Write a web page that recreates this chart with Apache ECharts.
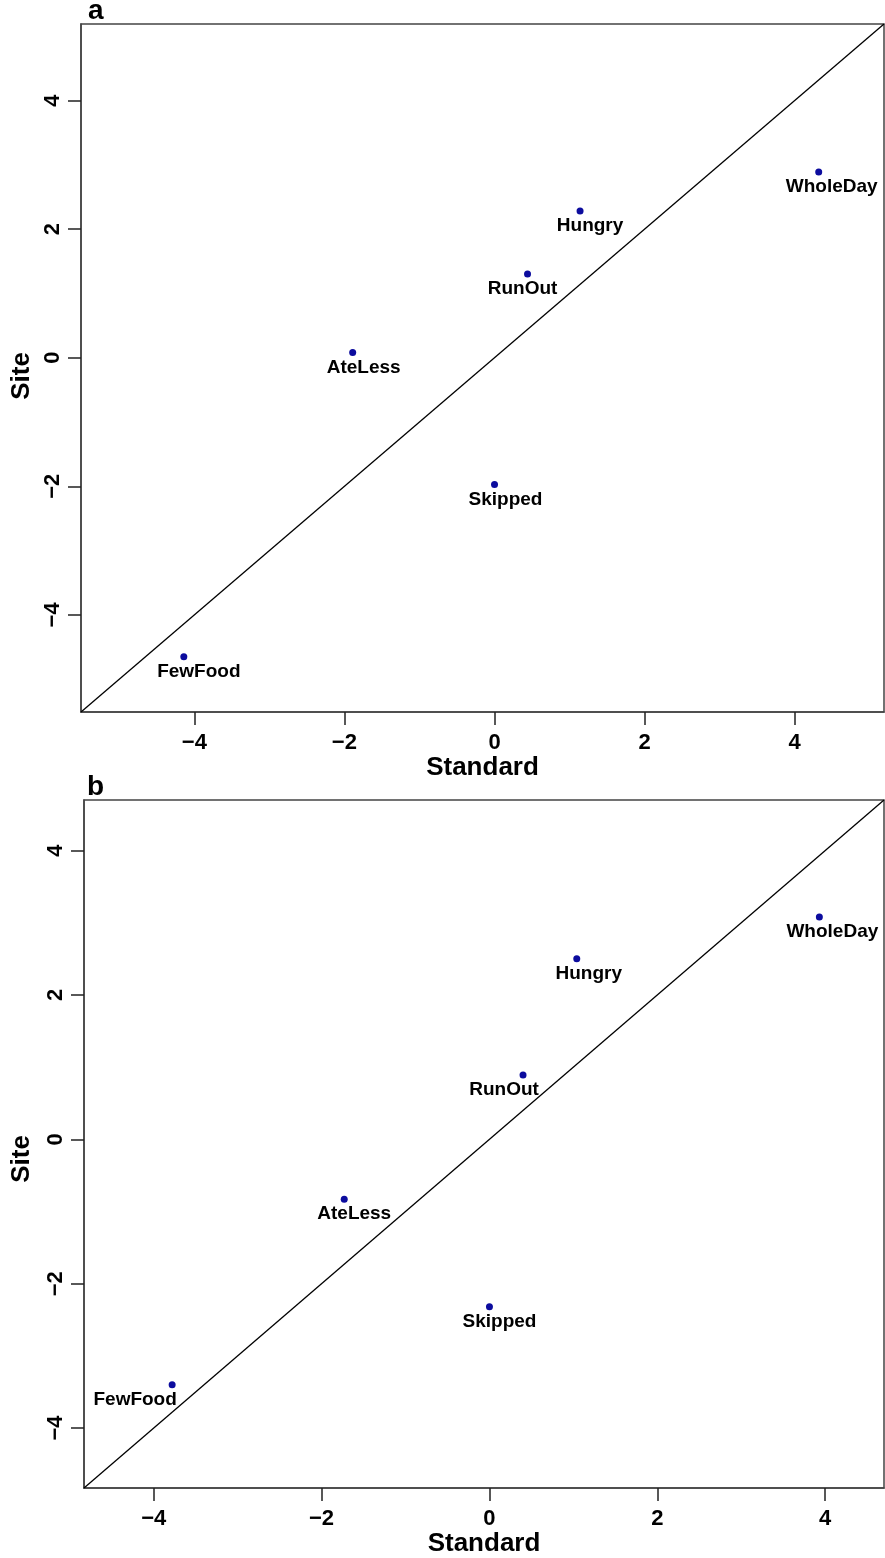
<!DOCTYPE html>
<html>
<head>
<meta charset="utf-8">
<script src="https://cdn.jsdelivr.net/npm/echarts@6/dist/echarts.min.js"></script>
<style>html,body{margin:0;padding:0;background:#fff}#c{width:885px;height:1558px}</style>
</head>
<body>
<div id="c"></div>
<script>
// ---- data ----
const categories = ['AteLess', 'FewFood', 'Hungry', 'RunOut', 'Skipped', 'WholeDay'];
const standardA = [-1.89, -4.14, 1.14, 0.44, 0.00, 4.32];
const siteA     = [ 0.08, -4.65, 2.28, 1.30, -1.97, 2.89];
const standardB = [-1.73, -3.78, 1.04, 0.40, 0.00, 3.93];
const siteB     = [-0.83, -3.40, 2.50, 0.89, -2.32, 3.08];
const tickValues = [-4, -2, 0, 2, 4];
const limitsA = [-5.51, 5.19];
const limitsB = [-4.83, 4.70];
const panelLetters = ['a', 'b'];
const xTitle = 'Standard';
const yTitle = 'Site';

// ---- style ----
const labelShiftA = [11, 15, 10, -5, 11, 13];
const labelShiftB = [10, -37, 12, -19, 10, 13];
const FONT = "'Liberation Sans', Arial, sans-serif";
const fmt = v => v < 0 ? '\u2212' + Math.abs(v) : String(v);

function xAxis(grid, lim) {
  return {
    type: 'value', gridIndex: grid, min: lim[0], max: lim[1],
    name: xTitle, nameLocation: 'middle', nameGap: 42,
    nameTextStyle: { fontFamily: FONT, fontWeight: 'bold', fontSize: 26, color: '#000' },
    axisLine: { show: true, onZero: false, lineStyle: { color: '#444', width: 1.5 } },
    axisTick: { show: true, customValues: tickValues, length: 13, lineStyle: { color: '#222', width: 1.5 } },
    axisLabel: { customValues: tickValues, formatter: fmt, margin: 20, fontFamily: FONT, fontWeight: 'bold', fontSize: 22, color: '#000' },
    splitLine: { show: false }
  };
}
function yAxis(grid, lim) {
  return {
    type: 'value', gridIndex: grid, min: lim[0], max: lim[1],
    axisLine: { show: true, onZero: false, lineStyle: { color: '#444', width: 1.5 } },
    axisTick: { show: true, customValues: tickValues, length: 13, lineStyle: { color: '#222', width: 1.5 } },
    axisLabel: { customValues: tickValues, formatter: fmt, rotate: 90, margin: 17, fontFamily: FONT, fontWeight: 'bold', fontSize: 22, color: '#000' },
    splitLine: { show: false }
  };
}
function points(idx, xs, ys, shifts) {
  return {
    type: 'scatter', xAxisIndex: idx, yAxisIndex: idx,
    symbolSize: 7, itemStyle: { color: '#0c0c9e', opacity: 1 },
    data: categories.map((c, i) => ({
      name: c, value: [xs[i], ys[i]],
      label: { offset: [shifts[i], 0] }
    })),
    label: {
      show: true, position: 'bottom', distance: 2,
      formatter: p => p.name,
      fontFamily: FONT, fontWeight: 'bold', fontSize: 19, color: '#000', opacity: 1
    },
    z: 3
  };
}
function diag(idx, lim) {
  return {
    type: 'line', xAxisIndex: idx, yAxisIndex: idx, symbol: 'none', silent: true,
    data: [[lim[0], lim[0]], [lim[1], lim[1]]],
    lineStyle: { color: '#000', width: 1.3 }, z: 2
  };
}

const chart = echarts.init(document.getElementById('c'), null, { renderer: 'canvas' });
chart.setOption({
  animation: false,
  backgroundColor: '#fff',
  grid: [
    { left: 81, top: 24, width: 803, height: 688, show: true, borderColor: '#444', borderWidth: 1.5 },
    { left: 84, top: 800, width: 800, height: 688, show: true, borderColor: '#444', borderWidth: 1.5 }
  ],
  xAxis: [xAxis(0, limitsA), xAxis(1, limitsB)],
  yAxis: [yAxis(0, limitsA), yAxis(1, limitsB)],
  graphic: [
    { type: 'text', x: 88, y: 25, style: { text: panelLetters[0], font: "bold 28px " + FONT, fill: '#000', textVerticalAlign: 'bottom' } },
    { type: 'text', x: 87, y: 801, style: { text: panelLetters[1], font: "bold 28px " + FONT, fill: '#000', textVerticalAlign: 'bottom' } },
    { type: 'text', x: 22, y: 376, rotation: Math.PI / 2, style: { text: yTitle, font: "bold 26px " + FONT, fill: '#000', textAlign: 'center', textVerticalAlign: 'middle' } },
    { type: 'text', x: 22, y: 1159, rotation: Math.PI / 2, style: { text: yTitle, font: "bold 26px " + FONT, fill: '#000', textAlign: 'center', textVerticalAlign: 'middle' } }
  ],
  series: [
    diag(0, limitsA), points(0, standardA, siteA, labelShiftA),
    diag(1, limitsB), points(1, standardB, siteB, labelShiftB)
  ]
});
</script>
</body>
</html>
